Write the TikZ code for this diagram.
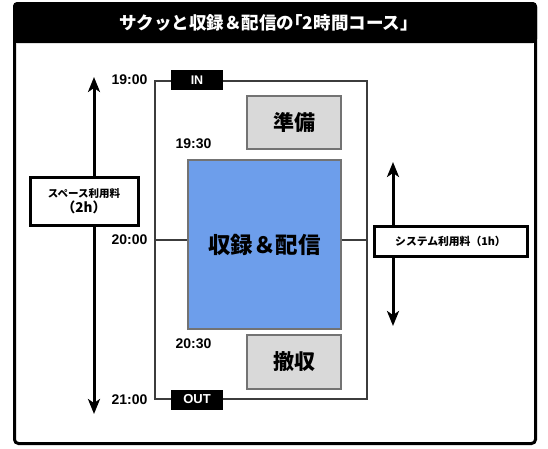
\documentclass[tikz,border=0pt]{standalone}
\usepackage{fontspec}
\setmainfont{Liberation Sans}
\newfontfamily\cjk{Noto Sans CJK JP}
\newfontfamily\cjkhalt[RawFeature=+halt]{Noto Sans CJK JP}
\usetikzlibrary{arrows.meta}
\definecolor{blueA}{RGB}{109,158,235}
\definecolor{grayA}{RGB}{217,217,217}
\definecolor{edgeA}{RGB}{115,115,115}
\definecolor{frameA}{RGB}{60,60,60}
\tikzset{
  tag/.style={fill=black, text=white, inner sep=0pt, minimum width=52pt, minimum height=20pt, font=\bfseries\fontsize{12.5}{14}\selectfont},
  timelbl/.style={font=\bfseries\fontsize{14}{16}\selectfont, inner sep=0pt},
  block/.style={draw=edgeA, line width=1.6pt, inner sep=0pt, font=\cjk\bfseries\fontsize{21}{24}\selectfont},
  fee/.style={draw=black, line width=3pt, fill=white, inner sep=0pt, align=center},
  arr/.style={line width=3pt, -{Stealth[length=15pt,width=12pt,inset=4pt]}},
  conn/.style={draw=frameA, line width=1.5pt}
}
\begin{document}
\begin{tikzpicture}[x=1pt,y=-1pt]
\useasboundingbox (0,0) rectangle (548,448);
% outer frame and title bar
\fill[black, rounded corners=4pt] (13,2) rectangle (537,43);
\fill[black] (13,30) rectangle (537,43);
\draw[line width=3pt, rounded corners=4pt] (14.5,3.5) rectangle (535.5,443.5);
\node[text=white, font=\cjk\bfseries\fontsize{17.5}{20}\selectfont] (title) at (264,23) {サクッと収録＆配信の{\cjkhalt\bfseries「}2時間コース{\cjkhalt\bfseries」}};
% inner time frame
\node[draw=frameA, line width=1.5pt, minimum width=212pt, minimum height=318pt, inner sep=0pt] (frame) at (261,240) {};
\node[tag] (in) at (197,80) {IN};
\node[tag, font=\bfseries\fontsize{13}{15}\selectfont] (out) at (197,399.5) {OUT};
% blocks
\node[block, fill=grayA, minimum width=94pt, minimum height=53pt] (prep) at (294,122.5) {準備};
\node[block, fill=blueA, minimum width=153pt, minimum height=169pt, font=\cjk\bfseries\fontsize{22.5}{26}\selectfont] (main) at (264.5,244.5) {収録＆配信};
\node[block, fill=grayA, minimum width=94pt, minimum height=54pt] (tear) at (294,362) {撤収};
\draw[conn] (frame.west) -- (frame.west -| main.west);
\draw[conn] (frame.east -| main.east) -- (frame.east);
% time labels
\node[timelbl] (t1900) at (129.5,80) {19:00};
\node[timelbl] (t1930) at (193.5,144) {19:30};
\node[timelbl] (t2000) at (129.5,240) {20:00};
\node[timelbl] (t2030) at (193.5,344) {20:30};
\node[timelbl] (t2100) at (129.5,400) {21:00};
% space fee
\node[fee, minimum width=108pt, minimum height=48pt] (space) at (84,201) {{\cjk\bfseries\fontsize{10.5}{14}\selectfont スペース利用料}\\[1pt]{\cjk\bfseries\fontsize{13.5}{15}\selectfont （2h）}};
\coordinate (ltop) at (94,77);
\coordinate (lbot) at (94,414);
\draw[arr] (space.north -| ltop) -- (ltop);
\draw[arr] (space.south -| lbot) -- (lbot);
% system fee
\node[fee, minimum width=153pt, minimum height=30pt, font=\cjk\bfseries\fontsize{10.8}{12}\selectfont] (sys) at (450.5,241) {システム利用料（1h）};
\coordinate (rtop) at (393,162);
\coordinate (rbot) at (393,326);
\draw[arr] (sys.north -| rtop) -- (rtop);
\draw[arr] (sys.south -| rbot) -- (rbot);
\end{tikzpicture}
\end{document}
